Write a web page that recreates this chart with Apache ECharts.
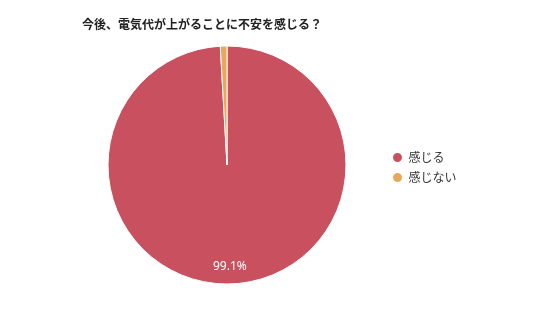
<!DOCTYPE html>
<html><head><meta charset="utf-8">
<script src="https://cdn.jsdelivr.net/npm/echarts@6/dist/echarts.min.js"></script>
<style>html,body{margin:0;padding:0;background:#fff}#c{width:550px;height:313px}</style>
</head><body><div id="c"></div>
<script>
const title = '今後、電気代が上がることに不安を感じる？';
const categories = ['感じる', '感じない'];
const values = [99.1, 0.9];
const colors = ['#c8505f', '#e8a85c'];

const data = categories.map((n, i) => ({ name: n, value: values[i] }));
const chart = echarts.init(document.getElementById('c'));
chart.setOption({
  animation: false,
  color: colors,
  title: {
    text: title, left: 77, top: 13,
    textStyle: { fontSize: 12, fontWeight: 'bold', color: '#222', fontFamily: 'Noto Sans CJK JP' }
  },
  legend: {
    orient: 'vertical', left: 386, top: 146, itemGap: 7,
    icon: 'circle', itemWidth: 12, itemHeight: 11,
    data: categories,
    textStyle: { fontSize: 12, color: '#333', fontFamily: 'Noto Sans CJK JP' }
  },
  series: [{
    type: 'pie', center: [227, 165], radius: [0, 119],
    startAngle: 90, clockwise: true,
    data: data,
    itemStyle: { borderColor: '#fff', borderWidth: 1 },
    label: { show: false }, labelLine: { show: false }
  }, {
    type: 'pie', center: [227, 165], radius: [81, 117],
    startAngle: 90, clockwise: true, silent: true,
    data: data,
    itemStyle: { color: 'rgba(0,0,0,0)' },
    label: {
      position: 'inside', fontSize: 12, color: '#fff', fontFamily: 'Noto Sans',
      formatter: p => p.value >= 5 ? p.value.toFixed(1) + '%' : ''
    },
    labelLine: { show: false }
  }]
});
</script></body></html>
